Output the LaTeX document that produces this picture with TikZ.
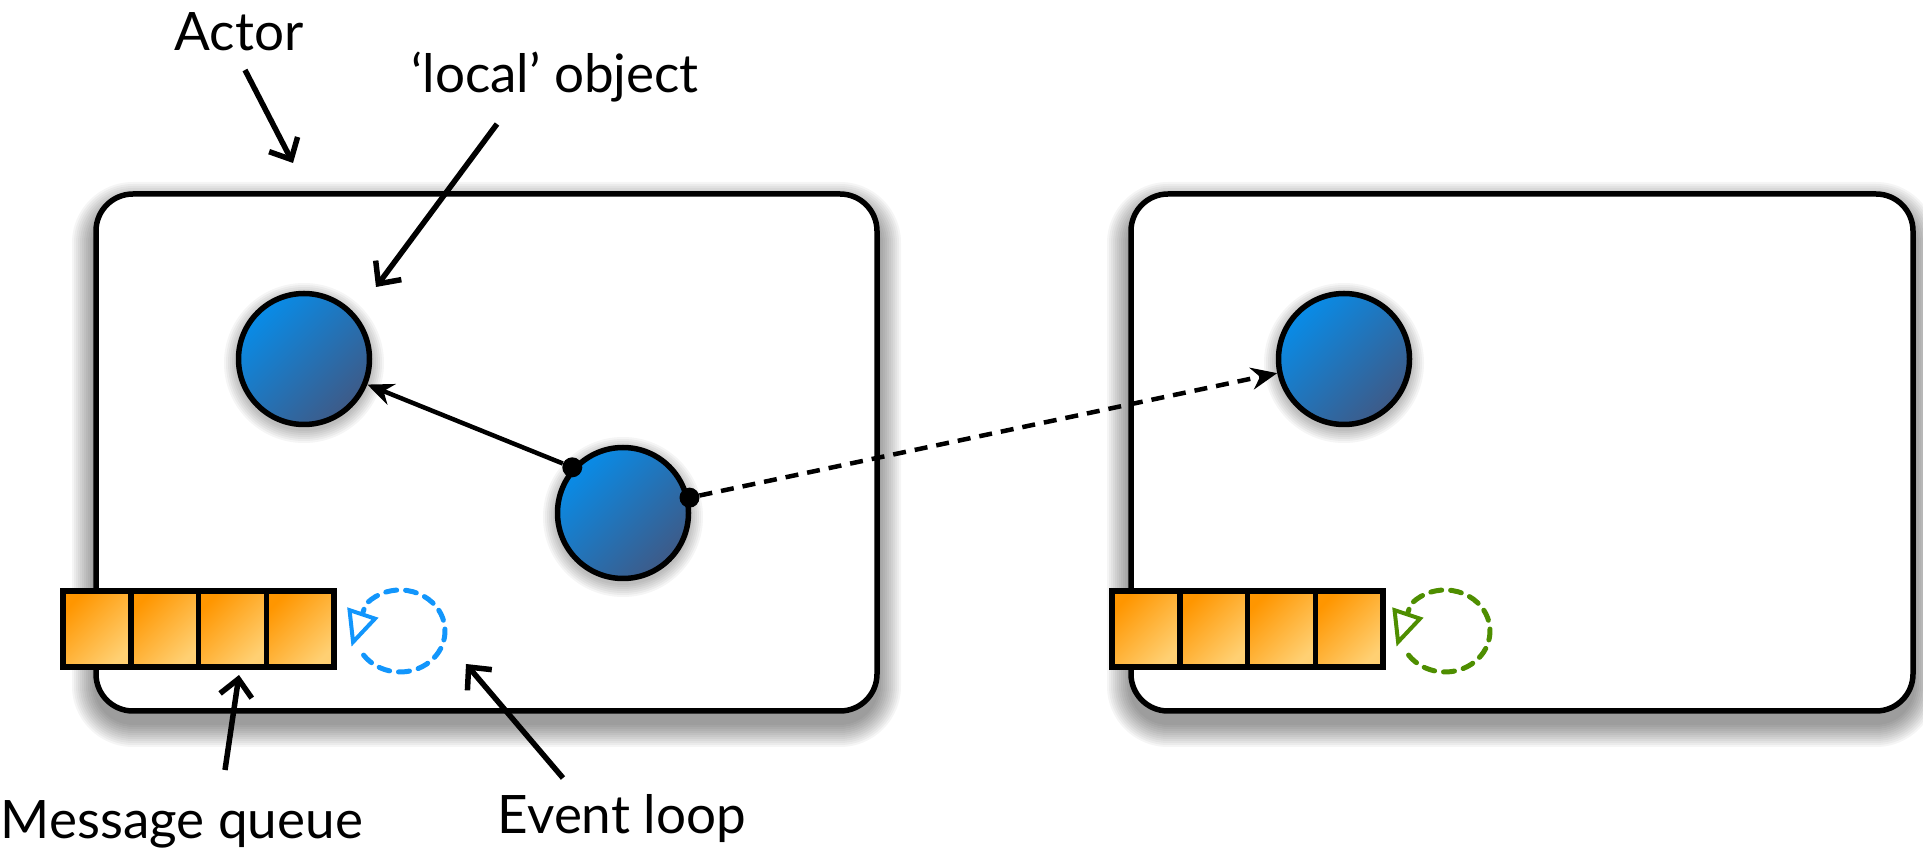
\documentclass[tikz,border=0pt]{standalone}
\usepackage{fontspec}
\setmainfont{Lato}
\usetikzlibrary{arrows.meta}
\definecolor{objtop}{RGB}{8,140,232}
\definecolor{objbot}{RGB}{62,90,135}
\definecolor{celltop}{RGB}{255,150,0}
\definecolor{cellbot}{RGB}{255,208,115}
\definecolor{loopblue}{RGB}{18,150,252}
\definecolor{loopgreen}{RGB}{78,142,0}
\tikzset{
	actorbox/.style={draw=black, line width=5.5pt, fill=white, rounded corners=37},
	obj/.style={circle, draw=black, line width=5.5pt, minimum size=131pt, inner sep=0pt,
		top color=objtop, bottom color=objbot, shading angle=45},
	ref/.style={circle, fill=black, minimum size=20pt, inner sep=0pt},
	cell/.style={draw=black, line width=5.5pt, minimum width=67.75pt, minimum height=76pt,
		inner sep=0pt, outer sep=0pt, top color=celltop, bottom color=cellbot, shading angle=45},
	evloop/.style={line width=5pt, dash pattern=on 11pt off 9pt, line cap=round,
		-{Triangle[open, length=36pt, width=32pt, line width=4pt]}},
	pointer/.style={line width=5.5pt, -{Straight Barb[length=17pt, width=32pt]}},
	lbl/.style={font=\fontsize{53}{60}\selectfont, inner sep=0pt, anchor=base}
}

\begin{document}
\begin{tikzpicture}[x=1pt, y=1pt]
	\useasboundingbox (0,0) rectangle (1923,849);
	
	% soft shadows of the two actors
	\foreach \s in {2,4,...,24} {
		\fill[black, opacity=0.04, rounded corners=37+\s] (96-\s,126-\s) rectangle (877+\s,643+\s);
		\fill[black, opacity=0.04, rounded corners=37+\s] (1131-\s,126-\s) rectangle (1913+\s,643+\s);
	}
	\draw[actorbox] (96,138) rectangle (877,655);
	\draw[actorbox] (1131,138) rectangle (1913,655);
	
	% objects
	\coordinate (posA) at (304,490);
	\coordinate (posB) at (623,336);
	\coordinate (posC) at (1344,490);
	\foreach \p in {posA,posB,posC}
		\foreach \s in {2,4,...,14}
			\fill[black, opacity=0.04] ([yshift=-4pt]\p) circle[radius=66+\s];
	\node[obj] (objA) at (posA) {};
	\node[obj] (objB) at (posB) {};
	\node[obj] (objC) at (posC) {};
	\node[ref] (refA) at (objB.138) {};
	\node[ref] (refC) at (objB.13) {};
	\draw[line width=4.5pt, -{Stealth[length=26pt, width=22pt]}] (refA) -- (objA);
	\draw[line width=4.5pt, dash pattern=on 13pt off 9pt, -{Stealth[length=26pt, width=22pt]}] (refC) -- (objC);
	
	% message queues
	\foreach \i in {0,...,3} {
		\node[cell] (qa\i) at (97+67.75*\i,220) {};
		\node[cell] (qb\i) at (1146+67.75*\i,220) {};
	}
	
	% event loops
	\coordinate (loopA) at (400,218);
	\coordinate (loopB) at (1445,218);
	\draw[evloop, loopblue] (loopA) ++(216:45 and 41) arc[start angle=216, end angle=500, x radius=45, y radius=41] -- ++(-14,-42);
	\draw[evloop, loopgreen] (loopB) ++(216:45 and 41) arc[start angle=216, end angle=500, x radius=45, y radius=41] -- ++(-14,-42);
	
	% labels
	\node[lbl] (actor) at (239,798) {Actor};
	\node[lbl] (local) at (555,756) {‘local’ object};
	\node[lbl] (queue) at (182,10) {Message queue};
	\node[lbl] (event) at (622,16) {Event loop};
	
	\coordinate (actorTail) at (245,779);
	\coordinate (actorTip) at (293,686);
	\coordinate (localTail) at (497,725);
	\coordinate (localTip) at (376,562);
	\coordinate (queueTail) at (225,79);
	\coordinate (queueTip) at (239,174);
	\coordinate (eventTail) at (563,71);
	\coordinate (eventTip) at (466,185);
	\draw[pointer] (actorTail) -- (actorTip);
	\draw[pointer] (localTail) -- (localTip);
	\draw[pointer] (queueTail) -- (queueTip);
	\draw[pointer] (eventTail) -- (eventTip);
\end{tikzpicture}
\end{document}
